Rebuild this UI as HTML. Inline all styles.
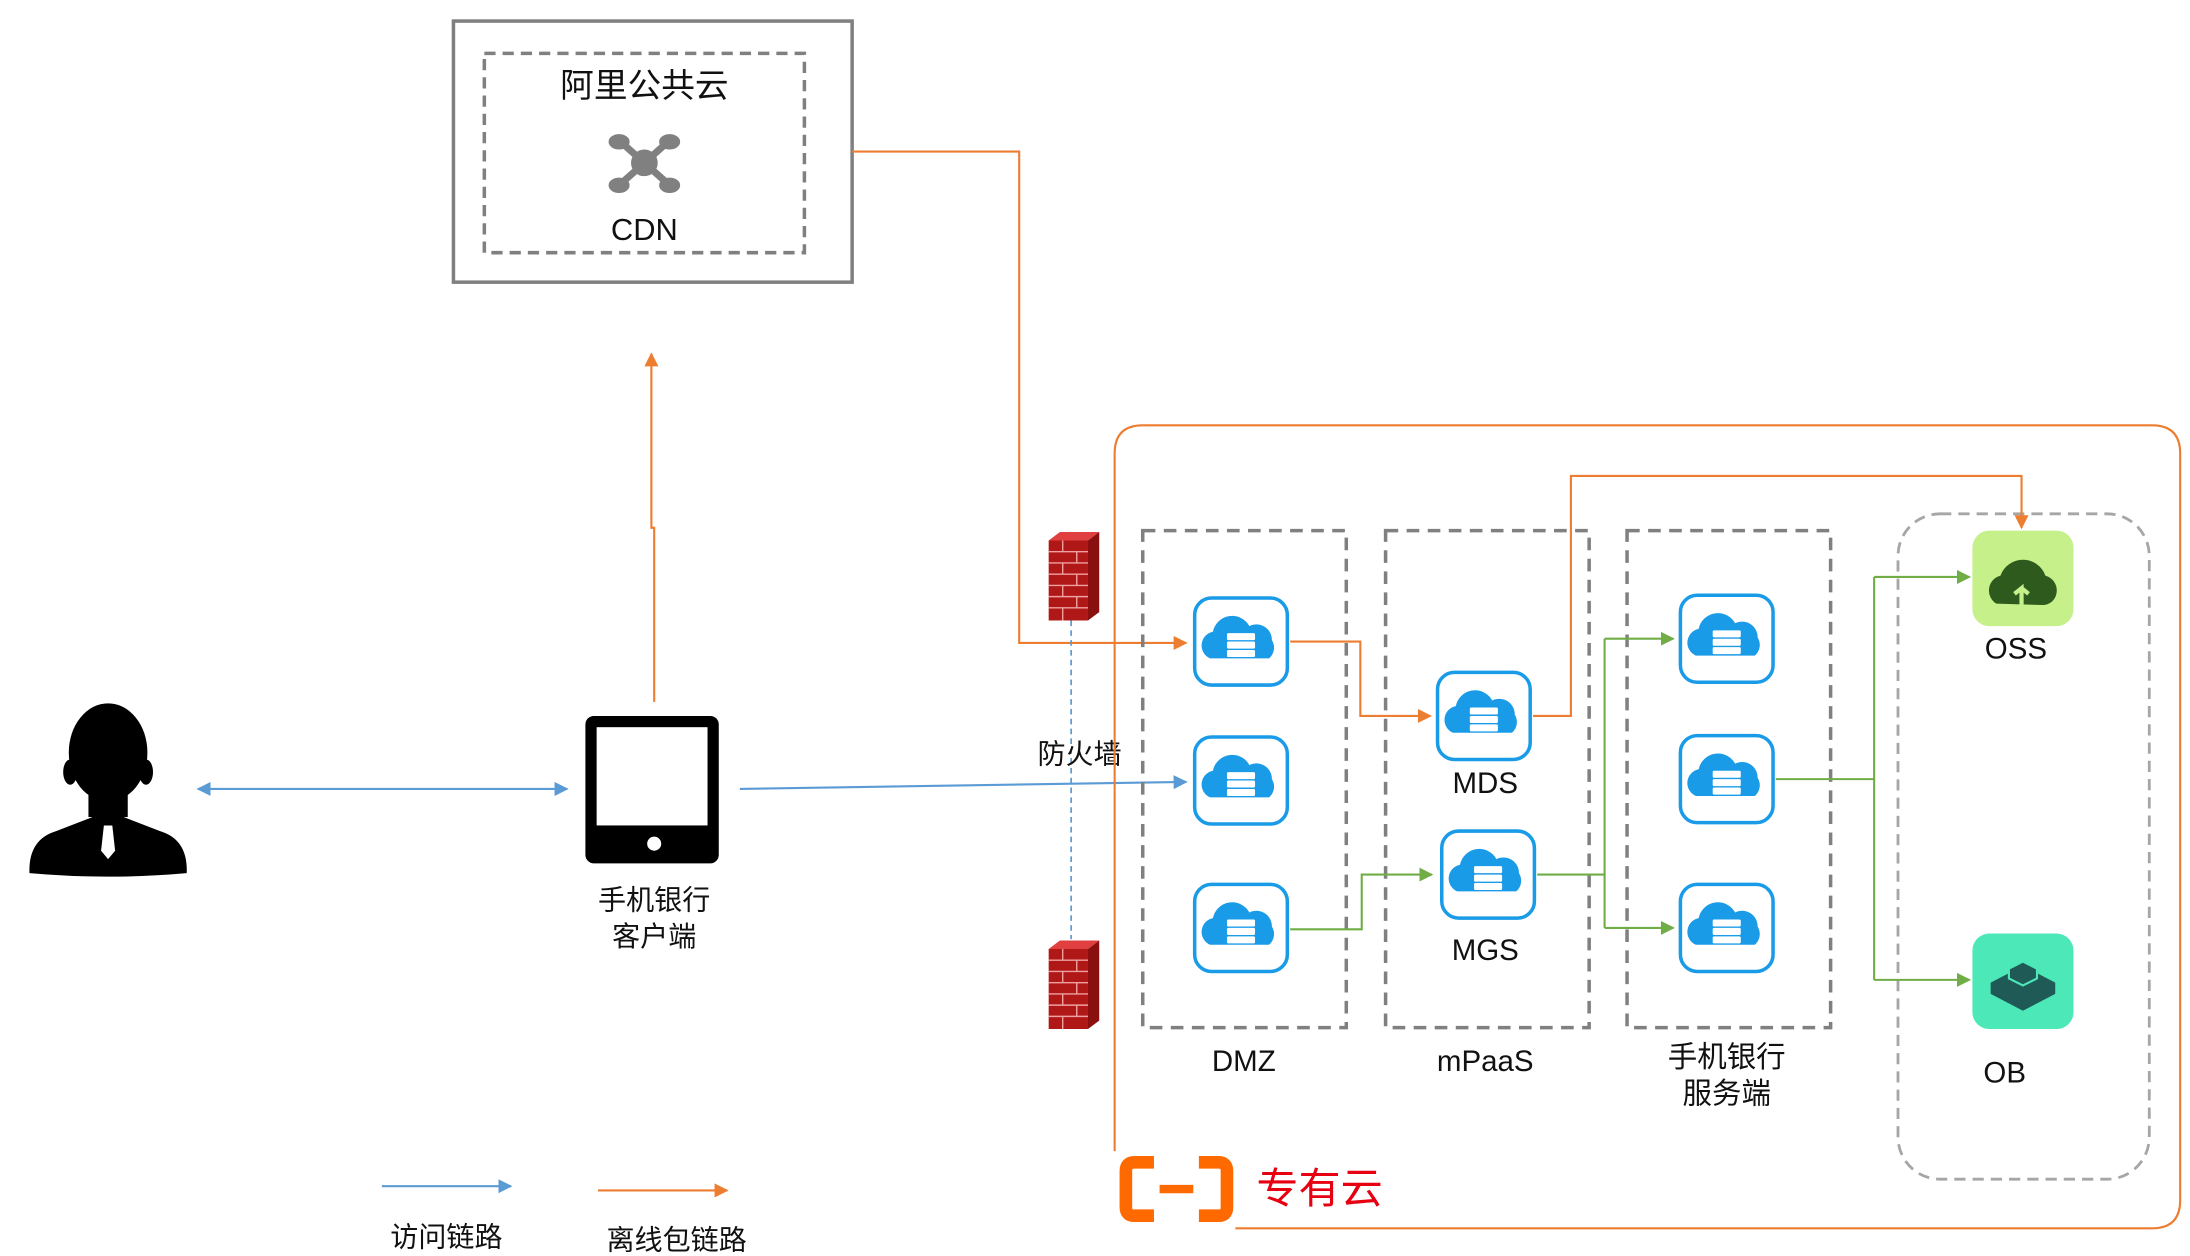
<!DOCTYPE html>
<html><head><meta charset="utf-8"><style>
html,body{margin:0;padding:0;background:#fff;}
svg{display:block;}
text{font-family:"Liberation Sans","Noto Sans CJK SC",sans-serif;fill:#111;}
</style></head><body>
<svg width="2190" height="1256" viewBox="0 0 1560 894.7" preserveAspectRatio="none" xmlns="http://www.w3.org/2000/svg">
<defs>
<marker id="ao" markerWidth="10" markerHeight="10" refX="9" refY="5" orient="auto" markerUnits="userSpaceOnUse"><path d="M0,0 L10,5 L0,10 z" fill="#ed7d31"/></marker>
<marker id="ab" markerWidth="10" markerHeight="10" refX="9" refY="5" orient="auto" markerUnits="userSpaceOnUse"><path d="M0,0 L10,5 L0,10 z" fill="#5b9bd5"/></marker>
<marker id="abs" markerWidth="10" markerHeight="10" refX="1" refY="5" orient="auto" markerUnits="userSpaceOnUse"><path d="M10,0 L0,5 L10,10 z" fill="#5b9bd5"/></marker>
<marker id="ag" markerWidth="10" markerHeight="10" refX="9" refY="5" orient="auto" markerUnits="userSpaceOnUse"><path d="M0,0 L10,5 L0,10 z" fill="#70ad47"/></marker>
<g id="node">
<rect x="-33" y="-31" width="66" height="62" rx="12" fill="#fff" stroke="#1a9be8" stroke-width="2.5"/>
<path d="M-22,12 a10,10 0 0 1 2,-19 a14,14 0 0 1 26,-4 a11,11 0 0 1 16,10 a10,10 0 0 1 -2,13 z" fill="#1a9be8"/>
<rect x="-10" y="-6" width="20" height="5" rx="1" fill="#fff"/>
<rect x="-10" y="0" width="20" height="5" rx="1" fill="#fff"/>
<rect x="-10" y="6" width="20" height="5" rx="1" fill="#fff"/>
</g>
<g id="fw">
<rect x="0" y="6" width="28" height="57" fill="#b01818"/>
<path d="M0,6 L8,0 L36,0 L28,6 z" fill="#e04040"/>
<path d="M28,6 L36,0 L36,57 L28,63 z" fill="#8a1010"/>
<g stroke="#f0a0a0" stroke-width="1">
<path d="M0,14 H28 M0,22 H28 M0,30 H28 M0,38 H28 M0,46 H28 M0,54 H28"/>
<path d="M10,6 V14 M20,14 V22 M10,22 V30 M20,30 V38 M10,38 V46 M20,46 V54 M10,54 V63"/>
</g>
</g>
</defs>

<!-- CDN box -->
<rect x="323" y="15" width="284" height="186" fill="#fff" stroke="#808080" stroke-width="2.5"/>
<rect x="345" y="38" width="228" height="142" fill="none" stroke="#808080" stroke-width="2.5" stroke-dasharray="8,5"/>
<text x="459" y="69" font-size="24" text-anchor="middle">阿里公共云</text>
<g fill="#808080" stroke="#808080">
<path d="M441,100 L477,132 M477,100 L441,132" stroke-width="5"/>
<ellipse cx="441" cy="101" rx="7" ry="5"/><ellipse cx="477" cy="101" rx="7" ry="5"/>
<ellipse cx="441" cy="132" rx="7" ry="5"/><ellipse cx="477" cy="132" rx="7" ry="5"/>
<circle cx="459" cy="116" r="9"/>
</g>
<text x="459" y="171" font-size="22" text-anchor="middle">CDN</text>

<!-- Orange CDN to DMZ -->
<polyline points="607,108 726,108 726,458 845,458" fill="none" stroke="#ed7d31" stroke-width="1.5" marker-end="url(#ao)"/>
<!-- Orange up -->
<polyline points="466,500 466,376 464,376 464,252" fill="none" stroke="#ed7d31" stroke-width="1.5" marker-end="url(#ao)"/>

<!-- Person -->
<g fill="#000">
<ellipse cx="77" cy="536" rx="28" ry="35"/>
<ellipse cx="50" cy="550" rx="5" ry="9"/><ellipse cx="104" cy="550" rx="5" ry="9"/>
<rect x="63" y="560" width="28" height="22"/>
<path d="M21,622 Q20,598 40,592 L66,582 L88,582 L114,592 Q134,598 133,622 Q77,627 21,622 z"/>
</g>
<path d="M74,588 L80,588 L82,606 L77,612 L72,606 z" fill="#fff"/>

<!-- blue double arrow -->
<line x1="141" y1="562" x2="404" y2="562" stroke="#5b9bd5" stroke-width="1.5" marker-start="url(#abs)" marker-end="url(#ab)"/>

<!-- Tablet -->
<rect x="417" y="510" width="95" height="105" rx="6" fill="#000"/>
<rect x="425" y="518" width="79" height="70" fill="#fff"/>
<circle cx="466" cy="601" r="5" fill="#fff"/>
<text x="466" y="648" font-size="20" text-anchor="middle">手机银行</text>
<text x="466" y="674" font-size="20" text-anchor="middle">客户端</text>

<!-- blue to DMZ2 -->
<line x1="527" y1="562" x2="845" y2="557" stroke="#5b9bd5" stroke-width="1.5" marker-end="url(#ab)"/>

<!-- Firewalls -->
<line x1="763" y1="442" x2="763" y2="669" stroke="#5b9bd5" stroke-width="1.2" stroke-dasharray="4,3"/>
<use href="#fw" x="747" y="379"/>
<use href="#fw" x="747" y="670"/>
<text x="769" y="544" font-size="20" text-anchor="middle">防火墙</text>

<!-- Private cloud container -->
<path d="M880,875 L1533,875 Q1553,875 1553,855 L1553,323 Q1553,303 1533,303 L814,303 Q794,303 794,323 L794,820" fill="none" stroke="#ed7d31" stroke-width="1.5"/>
<!-- logo -->
<path d="M822,828 L808,828 Q802,828 802,834 L802,860 Q802,866 808,866 L822,866 M854,828 L868,828 Q874,828 874,834 L874,860 Q874,866 868,866 L854,866" fill="none" stroke="#ff6a00" stroke-width="9"/>
<line x1="826" y1="847" x2="850" y2="847" stroke="#ff6a00" stroke-width="6"/>
<text x="895" y="857" font-size="30" style="fill:#e60012">专有云</text>

<!-- dashed groups -->
<g fill="none" stroke="#808080" stroke-width="2.5" stroke-dasharray="9,6">
<rect x="814" y="378" width="145" height="354"/>
<rect x="987" y="378" width="145" height="354"/>
<rect x="1159" y="378" width="145" height="354"/>
</g>
<rect x="1352" y="366" width="179" height="474" rx="30" fill="none" stroke="#a6a6a6" stroke-width="2" stroke-dasharray="8,5"/>

<!-- connectors -->
<polyline points="919,457 969,457 969,510 1019,510" fill="none" stroke="#ed7d31" stroke-width="1.5" marker-end="url(#ao)"/>
<polyline points="1092,510 1119,510 1119,339 1440,339 1440,376" fill="none" stroke="#ed7d31" stroke-width="1.5" marker-end="url(#ao)"/>
<polyline points="919,662 970,662 970,623 1020,623" fill="none" stroke="#70ad47" stroke-width="1.5" marker-end="url(#ag)"/>
<polyline points="1095,623 1143,623" fill="none" stroke="#70ad47" stroke-width="1.5"/>
<polyline points="1143,455 1143,661" fill="none" stroke="#70ad47" stroke-width="1.5"/>
<line x1="1143" y1="455" x2="1192" y2="455" stroke="#70ad47" stroke-width="1.5" marker-end="url(#ag)"/>
<line x1="1143" y1="661" x2="1192" y2="661" stroke="#70ad47" stroke-width="1.5" marker-end="url(#ag)"/>
<line x1="1265" y1="555" x2="1335" y2="555" stroke="#70ad47" stroke-width="1.5"/>
<line x1="1335" y1="411" x2="1335" y2="698" stroke="#70ad47" stroke-width="1.5"/>
<line x1="1335" y1="411" x2="1403" y2="411" stroke="#70ad47" stroke-width="1.5" marker-end="url(#ag)"/>
<line x1="1335" y1="698" x2="1403" y2="698" stroke="#70ad47" stroke-width="1.5" marker-end="url(#ag)"/>

<!-- nodes -->
<use href="#node" x="884" y="457"/>
<use href="#node" x="884" y="556"/>
<use href="#node" x="884" y="661"/>
<use href="#node" x="1057" y="510"/>
<use href="#node" x="1060" y="623"/>
<use href="#node" x="1230" y="455"/>
<use href="#node" x="1230" y="555"/>
<use href="#node" x="1230" y="661"/>

<!-- OSS -->
<rect x="1405" y="378" width="72" height="68" rx="12" fill="#c5f08a"/>
<path d="M1422,430 a11,11 0 0 1 3,-20 a17,17 0 0 1 32,0 a11,11 0 0 1 8,12 a10,10 0 0 1 -10,9 z" fill="#2f5a1e"/>
<path d="M1440,431 l0,-12 l-5,4 M1440,419 l5,4" stroke="#c5f08a" stroke-width="3" fill="none"/>
<!-- OB -->
<rect x="1405" y="665" width="72" height="68" rx="12" fill="#4de8b8"/>
<path d="M1418,700 L1441,688 L1464,700 L1464,708 L1441,720 L1418,708 z" fill="#1f5a57"/>
<path d="M1431,690 L1441,685 L1451,690 L1451,697 L1441,702 L1431,697 z" fill="#1f5a57" stroke="#4de8b8" stroke-width="1.5"/>

<!-- labels -->
<g font-size="21" text-anchor="middle">
<text x="1058" y="565">MDS</text>
<text x="1058" y="684">MGS</text>
<text x="886" y="763">DMZ</text>
<text x="1058" y="763">mPaaS</text>
<text x="1230" y="760">手机银行</text>
<text x="1230" y="786">服务端</text>
<text x="1436" y="469">OSS</text>
<text x="1428" y="771">OB</text>
</g>

<!-- legend -->
<line x1="272" y1="845" x2="364" y2="845" stroke="#5b9bd5" stroke-width="1.5" marker-end="url(#ab)"/>
<line x1="426" y1="848" x2="518" y2="848" stroke="#ed7d31" stroke-width="1.5" marker-end="url(#ao)"/>
<text x="318" y="888" font-size="20" text-anchor="middle">访问链路</text>
<text x="482" y="890" font-size="20" text-anchor="middle">离线包链路</text>
</svg>
</body></html>
